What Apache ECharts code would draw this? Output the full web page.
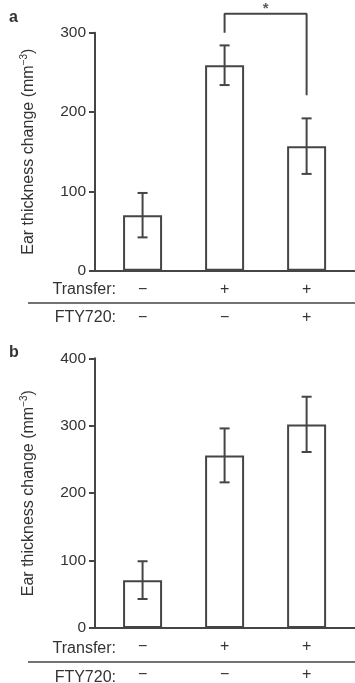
<!DOCTYPE html>
<html>
<head>
<meta charset="utf-8">
<script src="https://cdn.jsdelivr.net/npm/echarts@6/dist/echarts.min.js"></script>
<style>
html,body{margin:0;padding:0;background:#fff;}
#chart{width:355px;height:683px;}
</style>
</head>
<body>
<div id="chart"></div>
<script>
// ---- data ----
const xPositions = [1, 2, 3];
const transferSigns = ['\u2212', '+', '+'];
const fty720Signs = ['\u2212', '\u2212', '+'];
const rowTitles = ['Transfer:', 'FTY720:'];
const yAxisTitle = 'Ear thickness change (mm';
const yAxisTitleSup = '\u22123';

const panelAMeans = [70, 259, 157];
const panelAErrors = [28, 25, 35];
const panelAMax = 300;

const panelBMeans = [71, 256, 302];
const panelBErrors = [28, 40, 41];
const panelBMax = 400;

// significance bracket in panel a (data units)
const bracketX = [2, 3];
const bracketTop = 324;
const bracketEnds = [300, 221];
const bracketLabel = '*';

// ---- chart ----
const LINE = '#454545';
const TEXT = '#333';
const FONT = '"Liberation Sans", Arial, sans-serif';

const chart = echarts.init(document.getElementById('chart'), null, {renderer: 'canvas'});

function xAxisCfg(gridIndex) {
  return {
    type: 'value', gridIndex, min: 0.42, max: 3.59,
    splitLine: {show: false},
    axisLine: {show: true, lineStyle: {color: LINE, width: 2}},
    axisTick: {show: false},
    axisLabel: {
      customValues: xPositions,
      margin: 5,
      formatter: function (v) {
        const i = xPositions.indexOf(Math.round(v));
        return '{s|' + transferSigns[i] + '}\n{s|' + fty720Signs[i] + '}';
      },
      rich: {s: {fontSize: 16, lineHeight: 28, color: TEXT, fontFamily: FONT}}
    }
  };
}
function yAxisCfg(gridIndex, max) {
  return {
    type: 'value', gridIndex, min: 0, max: max, interval: 100,
    splitLine: {show: false},
    axisLine: {show: true, lineStyle: {color: LINE, width: 2}},
    axisTick: {show: true, length: 6, lineStyle: {color: LINE, width: 2}},
    axisLabel: {color: TEXT, fontSize: 15.5, fontFamily: FONT, margin: 9},
    name: '{n|' + yAxisTitle + '}{p|' + yAxisTitleSup + '}{n|)}',
    nameLocation: 'middle', nameRotate: 90, nameGap: 57,
    nameTextStyle: {
      rich: {
        n: {fontSize: 16, color: TEXT, fontFamily: FONT},
        p: {fontSize: 10, color: TEXT, fontFamily: FONT, padding: [0, 0, 9, 0]}
      }
    }
  };
}
function barSeries(idx, means) {
  return {
    type: 'bar', xAxisIndex: idx, yAxisIndex: idx, barWidth: 39,
    data: xPositions.map((x, i) => [x, means[i]]),
    itemStyle: {color: '#fff', borderColor: LINE, borderWidth: 2},
    silent: true, z: 2
  };
}
function errSeries(idx, means, errs) {
  return {
    type: 'custom', xAxisIndex: idx, yAxisIndex: idx, z: 3,
    data: xPositions.map((x, i) => [x, means[i] - errs[i], means[i] + errs[i]]),
    renderItem: function (params, api) {
      const lo = api.coord([api.value(0), api.value(1)]);
      const hi = api.coord([api.value(0), api.value(2)]);
      const w = 5;
      const st = {stroke: LINE, lineWidth: 2};
      return {type: 'group', children: [
        {type: 'line', shape: {x1: lo[0], y1: lo[1], x2: hi[0], y2: hi[1]}, style: st},
        {type: 'line', shape: {x1: hi[0] - w, y1: hi[1], x2: hi[0] + w, y2: hi[1]}, style: st},
        {type: 'line', shape: {x1: lo[0] - w, y1: lo[1], x2: lo[0] + w, y2: lo[1]}, style: st}
      ]};
    }
  };
}

const rowText = (x, y, t) => ({type: 'text', x, y, style: {text: t, align: 'right', verticalAlign: 'middle', fontSize: 16, fill: TEXT, fontFamily: FONT}});

const option = {
  backgroundColor: '#fff',
  animation: false,
  textStyle: {fontFamily: FONT},
  grid: [
    {left: 95, right: 0, top: 32.7, height: 238},
    {left: 95, right: 0, top: 358.3, height: 271.7}
  ],
  xAxis: [xAxisCfg(0), xAxisCfg(1)],
  yAxis: [yAxisCfg(0, panelAMax), yAxisCfg(1, panelBMax)],
  series: [
    barSeries(0, panelAMeans),
    errSeries(0, panelAMeans, panelAErrors),
    barSeries(1, panelBMeans),
    errSeries(1, panelBMeans, panelBErrors),
    {
      type: 'line', xAxisIndex: 0, yAxisIndex: 0, clip: false, symbol: 'none',
      lineStyle: {color: LINE, width: 2}, silent: true,
      data: [[bracketX[0], bracketEnds[0]], [bracketX[0], bracketTop], [bracketX[1], bracketTop], [bracketX[1], bracketEnds[1]]]
    },
    {
      type: 'scatter', xAxisIndex: 0, yAxisIndex: 0, clip: false, symbolSize: 0, silent: true,
      data: [[(bracketX[0] + bracketX[1]) / 2, bracketTop]],
      label: {show: true, position: 'top', distance: -3, formatter: bracketLabel, color: TEXT, fontSize: 15, fontWeight: 'bold', fontFamily: FONT}
    }
  ],
  title: [
    {text: 'a', left: 9, top: 10, padding: 0, textStyle: {fontSize: 16, fontWeight: 'bold', color: '#333', fontFamily: FONT}},
    {text: 'b', left: 9, top: 345, padding: 0, textStyle: {fontSize: 16, fontWeight: 'bold', color: '#333', fontFamily: FONT}}
  ],
  graphic: [
    rowText(116, 290, rowTitles[0]),
    rowText(116, 318, rowTitles[1]),
    {type: 'line', shape: {x1: 28, y1: 303, x2: 355, y2: 303}, style: {stroke: LINE, lineWidth: 1.5}},
    rowText(116, 649, rowTitles[0]),
    rowText(116, 678, rowTitles[1]),
    {type: 'line', shape: {x1: 28, y1: 662, x2: 355, y2: 662}, style: {stroke: LINE, lineWidth: 1.5}}
  ]
};
chart.setOption(option);
</script>
</body>
</html>
